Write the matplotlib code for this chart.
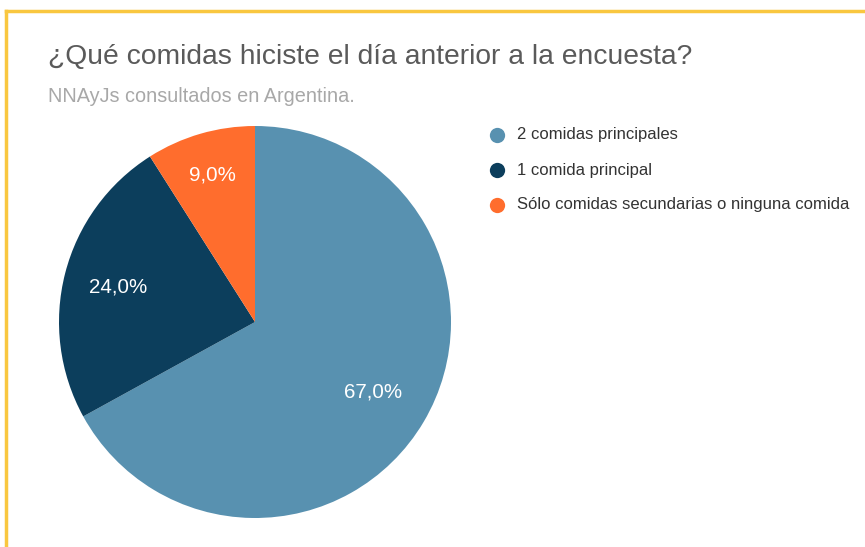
import numpy as np
import matplotlib
matplotlib.use("Agg")
import matplotlib.pyplot as plt
from matplotlib.lines import Line2D

categories = ["2 comidas principales", "1 comida principal", "Sólo comidas secundarias o ninguna comida"]
values = [67.0, 24.0, 9.0]
colors = ["#5891b0", "#0c3e5c", "#ff6d2d"]
title = "¿Qué comidas hiciste el día anterior a la encuesta?"
subtitle = "NNAyJs consultados en Argentina."

plt.rcParams['font.family'] = ['Liberation Sans', 'DejaVu Sans']

W, H = 865, 547
fig = plt.figure(figsize=(W/100, H/100), dpi=100)
ax = fig.add_axes([0, 0, 1, 1])

# border (top and left yellow lines)
ax.add_line(Line2D([6, W], [H-11, H-11], color="#f9c740", lw=2.5))
ax.add_line(Line2D([6, 6], [0, H-11], color="#f9c740", lw=2.5))

cx, cy, r = 255, H-322, 196
wedges, _ = ax.pie(values, colors=colors, startangle=90, counterclock=False,
                   center=(cx, cy), radius=r, frame=True,
                   wedgeprops=dict(linewidth=0))
ax.set_xlim(0, W)
ax.set_ylim(0, H)
ax.set_aspect('equal')
ax.axis('off')

dists = [0.70, 0.72, 0.78]
for w, v, d in zip(wedges, values, dists):
    ang = np.deg2rad((w.theta1 + w.theta2) / 2)
    ax.text(cx + d*r*np.cos(ang), cy + d*r*np.sin(ang),
            f"{v:.1f}%".replace('.', ','), color="white", fontsize=14.8,
            ha='center', va='center')

ax.text(48, H-57, title, fontsize=20.3, color="#5a5a5a", ha='left', va='center')
ax.text(48, H-96, subtitle, fontsize=14.3, color="#a8a8a8", ha='left', va='center')

for i, (c, lab) in enumerate(zip(categories, colors)):
    y = H-(135 + 35*i)
    ax.plot([497], [y], 'o', ms=11, color=lab, mec='none')
    ax.text(517, y, c, fontsize=12, color="#333333", ha='left', va='center')

fig.savefig("out.png", dpi=100)
